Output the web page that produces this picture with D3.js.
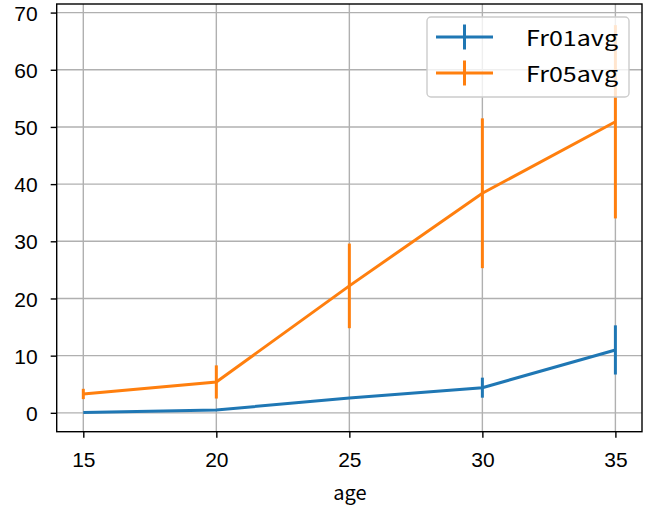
<!DOCTYPE html>
<html><head><meta charset="utf-8">
<script src="https://cdn.jsdelivr.net/npm/d3@7"></script>
<style>body{margin:0;background:#fff}svg{display:block}text{font-family:"Noto Sans CJK JP","DejaVu Sans",sans-serif}</style>
</head><body><svg id="c" width="646" height="513"></svg>
<script>
const ages = [15, 20, 25, 30, 35];
const fr01avg = [0.05, 0.5, 2.6, 4.4, 11.0];
const fr01err = [0, 0, 0, 1.75, 4.3];
const fr05avg = [3.3, 5.4, 22.2, 38.4, 50.9];
const fr05err = [0.9, 2.9, 7.4, 13.1, 16.9];
const xTicks = [15, 20, 25, 30, 35];
const yTicks = [0, 10, 20, 30, 40, 50, 60, 70];
const seriesNames = ["Fr01avg", "Fr05avg"];
const colors = ["#1f77b4", "#ff7f0e"];

const svg = d3.select("#c");
const L = 56.7, R = 642, T = 4, B = 431.7;
const x = d3.scaleLinear().domain([14, 36]).range([L, R]);
const y = d3.scaleLinear().domain([-3.3, 71.5]).range([B, T]);

// grid
const g = svg.append("g");
g.selectAll(".gx").data(xTicks).join("line")
  .attr("x1", d => x(d)).attr("x2", d => x(d)).attr("y1", T).attr("y2", B)
  .attr("stroke", "#b0b0b0").attr("stroke-width", 1.4);
g.selectAll(".gy").data(yTicks).join("line")
  .attr("y1", d => y(d)).attr("y2", d => y(d)).attr("x1", L).attr("x2", R)
  .attr("stroke", "#b0b0b0").attr("stroke-width", 1.4);

const series = [
  {name: seriesNames[0], v: fr01avg, e: fr01err, c: colors[0]},
  {name: seriesNames[1], v: fr05avg, e: fr05err, c: colors[1]}
];
const line = d3.line().x(d => x(d[0])).y(d => y(d[1]));
series.forEach(s => {
  const pts = ages.map((a, i) => [a, s.v[i], s.e[i]]);
  svg.append("path").attr("d", line(pts)).attr("fill", "none")
    .attr("stroke", s.c).attr("stroke-width", 3);
  svg.append("g").selectAll("line").data(pts.filter(p => p[2] > 0)).join("line")
    .attr("x1", d => x(d[0])).attr("x2", d => x(d[0]))
    .attr("y1", d => y(d[1] - d[2])).attr("y2", d => y(d[1] + d[2]))
    .attr("stroke", s.c).attr("stroke-width", 3);
});

// frame
svg.append("rect").attr("x", L).attr("y", T).attr("width", R - L).attr("height", B - T)
  .attr("fill", "none").attr("stroke", "#000").attr("stroke-width", 1.4);

// axes
const xa = svg.append("g").attr("transform", `translate(0,${B})`)
  .call(d3.axisBottom(x).tickValues(xTicks).tickSize(6).tickPadding(14).tickFormat(d3.format("d")));
const ya = svg.append("g").attr("transform", `translate(${L},0)`)
  .call(d3.axisLeft(y).tickValues(yTicks).tickSize(6).tickPadding(13).tickFormat(d3.format("d")));
[xa, ya].forEach(a => {
  a.select(".domain").remove();
  a.selectAll(".tick line").attr("stroke", "#000").attr("stroke-width", 1.4);
  a.selectAll("text").attr("font-size", 21).attr("fill", "#000")
    .style("font-family", '"Liberation Sans",Arial,sans-serif');
});
ya.selectAll("text").attr("dy", "0.36em");
svg.append("text").attr("x", 350).attr("y", 500).attr("text-anchor", "middle")
  .attr("font-size", 20).text("age");

// legend
const lg = svg.append("g");
lg.append("rect").attr("x", 427).attr("y", 17).attr("width", 202).attr("height", 80)
  .attr("rx", 4).attr("fill", "#fff").attr("fill-opacity", 0.8)
  .attr("stroke", "#cccccc").attr("stroke-width", 1.4);
series.forEach((s, i) => {
  const cy = 37 + i * 36;
  lg.append("line").attr("x1", 436).attr("x2", 493).attr("y1", cy).attr("y2", cy)
    .attr("stroke", s.c).attr("stroke-width", 3);
  lg.append("line").attr("x1", 464.5).attr("x2", 464.5).attr("y1", cy - 12.5).attr("y2", cy + 12.5)
    .attr("stroke", s.c).attr("stroke-width", 3);
  lg.append("text").attr("x", 526).attr("y", cy + 9).attr("font-size", 21)
    .attr("textLength", 92).attr("lengthAdjust", "spacingAndGlyphs").text(s.name);
});
</script></body></html>
